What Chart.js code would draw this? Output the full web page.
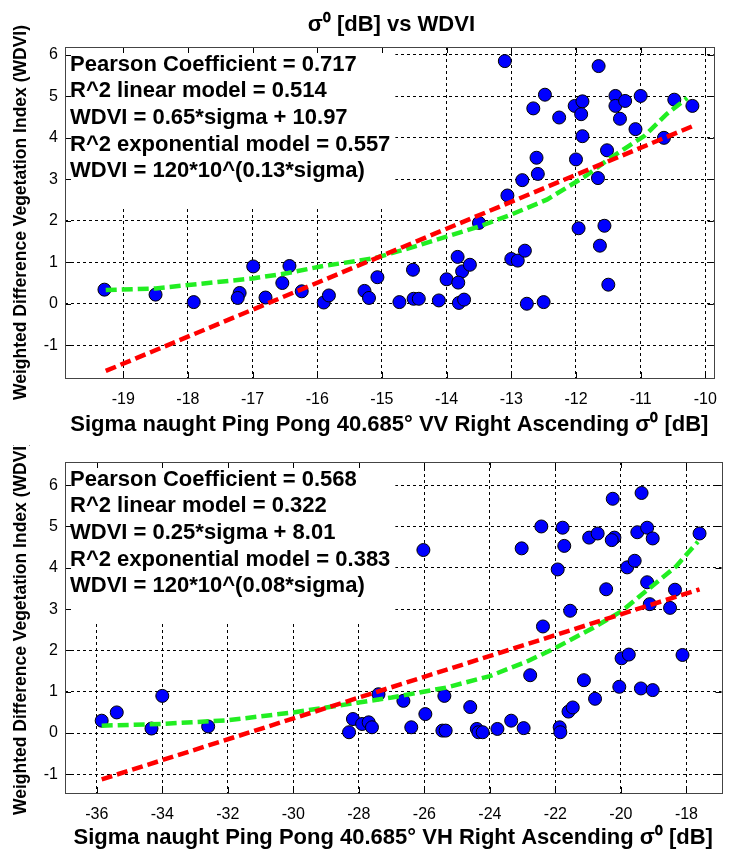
<!DOCTYPE html>
<html>
<head>
<meta charset="utf-8">
<title>Sigma naught vs WDVI</title>
<script src="https://cdn.jsdelivr.net/npm/chart.js@4.4.1/dist/chart.umd.min.js"></script>
<style>
    html, body { margin: 0; padding: 0; background: #fff; }
    .panel { position: absolute; left: 0; width: 729px; }
    #vv-panel { top: 0; height: 445px; }
    #vh-panel { top: 445px; height: 411px; }
</style>
</head>
<body>
<div class="panel" id="vv-panel"><canvas id="vvChart"></canvas></div>
<div class="panel" id="vh-panel"><canvas id="vhChart"></canvas></div>
<script>
// VV polarisation: sigma naught [dB] vs WDVI
const vvSigma = [-19.29, -18.50, -17.91, -17.20, -17.23, -16.99, -16.80, -16.43, -16.54, -16.24,
    -15.90, -15.82, -15.27, -15.20, -15.07, -14.73, -14.52, -14.51, -14.43,
    -14.12, -14.00, -13.83, -13.76, -13.64, -13.82, -13.81, -13.73, -13.50, -13.10,
    -13.06, -12.83, -13.00, -12.90, -12.79, -12.66, -12.61, -12.59, -12.48, -12.76,
    -12.50, -12.26, -12.02, -11.90, -11.92, -11.90, -12.00, -11.96, -11.65, -11.66,
    -11.56, -11.63, -11.50, -11.52, -11.39, -11.39, -11.24, -11.32, -11.00, -11.08,
    -10.64, -10.48, -10.20];
const vvWdvi = [0.34, 0.22, 0.04, 0.26, 0.14, 0.90, 0.15, 0.91, 0.50, 0.30,
    0.03, 0.20, 0.31, 0.14, 0.64, 0.04, 0.82, 0.12, 0.12,
    0.08, 0.59, 1.13, 0.78, 0.94, 0.51, 0.02, 0.10, 1.95, 5.85,
    2.61, 2.98, 1.08, 1.04, 1.28, 4.71, 3.52, 3.13, 5.04, 0.00,
    0.04, 4.49, 4.77, 4.88, 4.57, 4.04, 3.48, 1.82, 5.73, 3.03,
    1.88, 1.40, 0.46, 3.70, 5.01, 4.77, 4.89, 4.46, 5.01, 4.21,
    4.00, 4.92, 4.77];
// fitted models
const vvLinSigma = [-19.27, -10.20];
const vvLinWdvi = [-1.62, 4.28];
const vvExpSigma = [-19.27, -18.50, -17.00, -16.45, -15.95, -15.11, -14.45, -13.50, -13.00, -12.45, -11.85, -11.50, -10.94, -10.60, -10.28];
const vvExpWdvi = [0.33, 0.37, 0.61, 0.74, 0.90, 1.10, 1.40, 1.86, 2.15, 2.51, 3.08, 3.48, 4.05, 4.57, 4.96];

// VH polarisation
const vhSigma = [-35.85, -35.39, -34.33, -34.00, -32.60, -28.30, -28.18, -27.90, -27.70, -27.60,
    -27.40, -26.64, -26.40, -26.03, -25.97, -25.39, -25.45, -25.35, -24.60, -24.40,
    -24.35, -24.22, -23.77, -23.35, -23.03, -22.97, -22.77, -22.43, -22.38, -21.87,
    -21.85, -21.93, -21.78, -21.73, -21.55, -21.60, -21.47, -21.13, -20.97, -20.71,
    -20.79, -20.45, -20.25, -20.20, -20.28, -20.05, -19.98, -19.76, -19.81, -19.58,
    -19.50, -19.37, -19.39, -19.20, -19.03, -19.20, -19.12, -19.03, -18.50, -18.35,
    -18.12, -17.60];
const vhWdvi = [0.30, 0.50, 0.11, 0.90, 0.16, 0.02, 0.34, 0.22, 0.26, 0.14,
    0.94, 0.78, 0.14, 4.43, 0.46, 0.90, 0.06, 0.06, 0.63, 0.10,
    0.02, 0.02, 0.10, 0.30, 4.47, 0.12, 1.40, 5.00, 2.58, 0.14,
    0.02, 3.96, 4.97, 4.53, 2.96, 0.52, 0.62, 1.28, 4.73, 4.83,
    0.83, 3.48, 5.67, 4.73, 4.67, 1.12, 1.81, 1.90, 4.01, 4.17,
    4.86, 5.81, 1.08, 4.97, 4.71, 3.65, 3.12, 1.04, 3.03, 3.47,
    1.89, 4.83];
const vhLinSigma = [-35.85, -17.60];
const vhLinWdvi = [-1.12, 3.48];
const vhExpSigma = [-35.85, -34.05, -32.00, -30.00, -28.00, -27.00, -25.34, -24.00, -22.85, -22.00, -20.84, -19.98, -19.12, -18.32, -17.65];
const vhExpWdvi = [0.18, 0.22, 0.31, 0.50, 0.74, 0.86, 1.10, 1.38, 1.74, 2.06, 2.55, 2.95, 3.51, 4.03, 4.63];

// tick labels
const vvTicks = [-19, -18, -17, -16, -15, -14, -13, -12, -11, -10];
const vhTicks = [-36, -34, -32, -30, -28, -26, -24, -22, -20, -18];
const wdviTicks = [-1, 0, 1, 2, 3, 4, 5, 6];

const vvStats = ['Pearson Coefficient = 0.717', 'R^2 linear model = 0.514', 'WDVI = 0.65*sigma + 10.97',
    'R^2 exponential model = 0.557', 'WDVI = 120*10^(0.13*sigma)'];
const vhStats = ['Pearson Coefficient = 0.568', 'R^2 linear model = 0.322', 'WDVI = 0.25*sigma + 8.01',
    'R^2 exponential model = 0.383', 'WDVI = 120*10^(0.08*sigma)'];

const FONT = '"Liberation Sans", Arial, sans-serif';
Chart.defaults.font.family = FONT;
Chart.defaults.color = '#000';

const toPoints = (xs, ys) => xs.map((x, i) => ({ x: x, y: ys[i] }));

// white stats panel, full axes box, inward tick marks and the title
const plotFrame = {
    id: 'plotFrame',
    beforeDatasetsDraw(chart, args, opts) {
        const { ctx, chartArea: a } = chart;
        ctx.save();
        ctx.font = 'bold 22px ' + FONT;
        const w = Math.max(...opts.lines.map(t => ctx.measureText(t).width));
        ctx.fillStyle = '#fff';
        ctx.fillRect(a.left, a.top, w + 10, opts.boxHeight);
        ctx.fillStyle = '#000';
        ctx.textBaseline = 'alphabetic';
        opts.lines.forEach((t, i) => ctx.fillText(t, a.left + 5, a.top + opts.firstLine + i * opts.lineStep));
        ctx.restore();
    },
    afterDraw(chart, args, opts) {
        const { ctx, chartArea: a, scales } = chart;
        ctx.save();
        ctx.strokeStyle = '#000';
        ctx.lineWidth = 1;
        ctx.setLineDash([]);
        ctx.beginPath();
        scales.x.ticks.forEach(t => {
            const px = Math.round(scales.x.getPixelForValue(t.value)) + 0.5;
            ctx.moveTo(px, a.bottom); ctx.lineTo(px, a.bottom - 6);
            ctx.moveTo(px, a.top); ctx.lineTo(px, a.top + 6);
        });
        scales.y.ticks.forEach(t => {
            const py = Math.round(scales.y.getPixelForValue(t.value)) + 0.5;
            ctx.moveTo(a.left, py); ctx.lineTo(a.left + 6, py);
            ctx.moveTo(a.right, py); ctx.lineTo(a.right - 6, py);
        });
        ctx.stroke();
        ctx.strokeStyle = '#444';
        ctx.strokeRect(Math.round(a.left) + 0.5, Math.round(a.top) + 0.5,
            Math.round(a.right - a.left), Math.round(a.bottom - a.top));
        if (opts.title) {
            ctx.fillStyle = '#000';
            ctx.font = 'bold 22px ' + FONT;
            ctx.textAlign = 'center';
            ctx.textBaseline = 'middle';
            ctx.fillText(opts.title, (a.left + a.right) / 2 + 2, opts.titleY);
        }
        ctx.restore();
    }
};

function buildChart(canvasId, cfg) {
    return new Chart(document.getElementById(canvasId), {
        type: 'scatter',
        data: {
            datasets: [
                {
                    label: 'linear model',
                    data: toPoints(cfg.linX, cfg.linY),
                    showLine: true,
                    borderColor: '#ff0000',
                    borderWidth: 4.5,
                    borderDash: [11, 5],
                    pointRadius: 0,
                    order: 0
                },
                {
                    label: 'exponential model',
                    data: toPoints(cfg.expX, cfg.expY),
                    showLine: true,
                    borderColor: '#22ee22',
                    borderWidth: 4.5,
                    borderDash: [11, 5],
                    pointRadius: 0,
                    order: 1
                },
                {
                    label: 'WDVI',
                    data: toPoints(cfg.xs, cfg.ys),
                    backgroundColor: '#0000ff',
                    borderColor: '#000',
                    borderWidth: 1,
                    pointRadius: 6.5,
                    order: 2
                }
            ]
        },
        options: {
            responsive: true,
            maintainAspectRatio: false,
            animation: false,
            layout: { padding: { top: cfg.padTop, right: 4, left: 0, bottom: 0 } },
            plugins: {
                legend: { display: false },
                tooltip: { enabled: false },
                plotFrame: {
                    lines: cfg.stats,
                    boxHeight: 160,
                    firstLine: 23.5,
                    lineStep: 26.7,
                    title: cfg.title,
                    titleY: 25
                }
            },
            scales: {
                x: {
                    type: 'linear',
                    min: cfg.xMin,
                    max: cfg.xMax,
                    afterFit: s => { s.height = cfg.xAxisHeight; },
                    afterBuildTicks: s => { s.ticks = cfg.xTicks.map(v => ({ value: v })); },
                    grid: { color: '#000', lineWidth: 1, drawTicks: false },
                    border: { display: false, dash: [3, 3] },
                    ticks: { font: { size: 16 }, padding: 12, maxRotation: 0, callback: v => String(v) },
                    title: {
                        display: true,
                        text: cfg.xTitle,
                        font: { size: 22, weight: 'bold' },
                        padding: { top: 0, bottom: cfg.xTitlePad }
                    }
                },
                y: {
                    min: cfg.yMin,
                    max: cfg.yMax,
                    afterFit: s => { s.width = 65; },
                    afterBuildTicks: s => { s.ticks = wdviTicks.map(v => ({ value: v })); },
                    grid: { color: '#000', lineWidth: 1, drawTicks: false },
                    border: { display: false, dash: [3, 3] },
                    ticks: { font: { size: 16 }, padding: 7, callback: v => String(v) },
                    title: {
                        display: true,
                        text: 'Weighted Difference Vegetation Index (WDVI)',
                        font: { size: 17.5, weight: 'bold' },
                        padding: { top: 11, bottom: 0 }
                    }
                }
            }
        },
        plugins: [plotFrame]
    });
}

buildChart('vvChart', {
    xs: vvSigma, ys: vvWdvi,
    linX: vvLinSigma, linY: vvLinWdvi,
    expX: vvExpSigma, expY: vvExpWdvi,
    xTicks: vvTicks, xMin: -19.9, xMax: -9.87,
    yMin: -1.79, yMax: 6.19,
    stats: vvStats,
    title: 'σ⁰ [dB] vs WDVI',
    xTitle: 'Sigma naught Ping Pong 40.685° VV Right Ascending σ⁰ [dB]',
    padTop: 47, xAxisHeight: 67, xTitlePad: 7
});

buildChart('vhChart', {
    xs: vhSigma, ys: vhWdvi,
    linX: vhLinSigma, linY: vhLinWdvi,
    expX: vhExpSigma, expY: vhExpWdvi,
    xTicks: vhTicks, xMin: -36.97, xMax: -16.93,
    yMin: -1.45, yMax: 6.56,
    stats: vhStats,
    title: null,
    xTitle: 'Sigma naught Ping Pong 40.685° VH Right Ascending σ⁰ [dB]',
    padTop: 17, xAxisHeight: 63, xTitlePad: 5
});
</script>
</body>
</html>
